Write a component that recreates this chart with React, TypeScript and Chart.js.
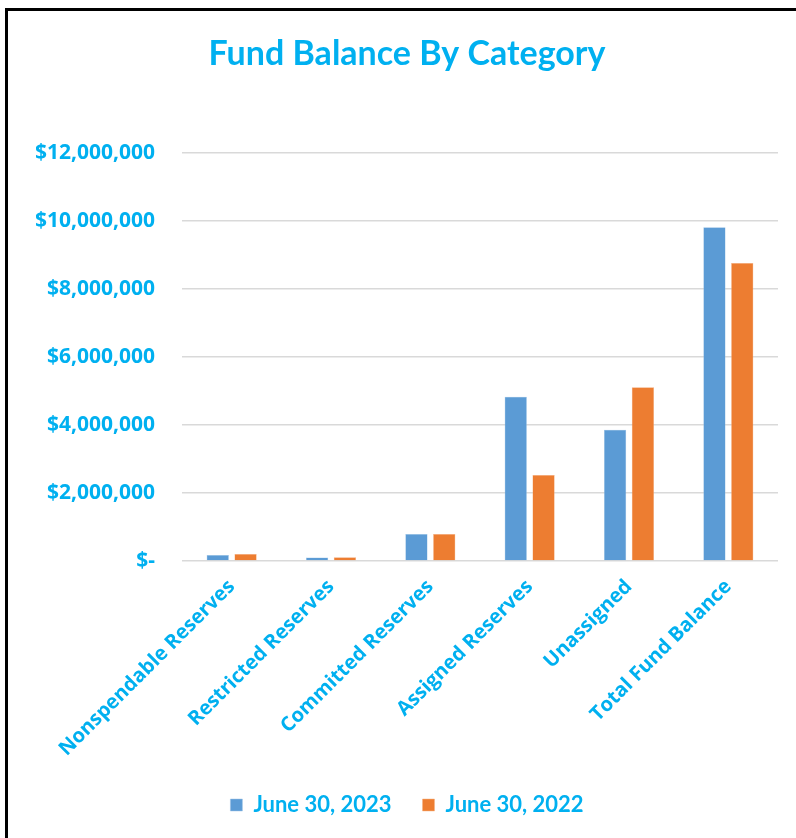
import React, { useEffect, useRef } from "react";
import { Chart, registerables } from "chart.js";

Chart.register(...registerables);

const categories = [
  "Nonspendable Reserves",
  "Restricted Reserves",
  "Committed Reserves",
  "Assigned Reserves",
  "Unassigned",
  "Total Fund Balance",
];
const seriesNames = ["June 30, 2023", "June 30, 2022"];
const values2023 = [176000, 100000, 794000, 4830000, 3860000, 9810000];
const values2022 = [205000, 110000, 794000, 2530000, 5110000, 8760000];
const yTickMax = 12000000;
const yTickStep = 2000000;

const TEXT = "#00B0F0";

export default function App() {
  const ref = useRef<HTMLCanvasElement | null>(null);
  useEffect(() => {
    let chart: Chart | null = null;
    let cancelled = false;
    const make = () => {
      if (cancelled || !ref.current) return;
      chart = new Chart(ref.current, {
        type: "bar",
        data: {
          labels: categories,
          datasets: [
            {
              label: seriesNames[0],
              data: values2023,
              backgroundColor: "#5B9BD5",
              borderColor: "#9DC3E6",
              borderWidth: 0.5,
              categoryPercentage: 0.56,
              barPercentage: 0.8,
            },
            {
              label: seriesNames[1],
              data: values2022,
              backgroundColor: "#ED7D31",
              borderColor: "#F4B183",
              borderWidth: 0.5,
              categoryPercentage: 0.56,
              barPercentage: 0.8,
            },
          ],
        },
        options: {
          animation: false,
          responsive: false,
          layout: { padding: { left: 36, right: 18, top: 0, bottom: 12 } },
          plugins: {
            tooltip: { enabled: false },
            title: {
              display: true,
              text: "Fund Balance By Category",
              color: TEXT,
              font: { family: "Lato", size: 34, weight: "bold", lineHeight: 1.2 },
              padding: { top: 34, bottom: 78 },
            },
            legend: {
              position: "bottom",
              labels: {
                color: TEXT,
                font: { family: "Lato", size: 22, weight: "bold" },
                boxWidth: 12,
                boxHeight: 12,
                padding: 31,
              },
            },
          },
          scales: {
            x: {
              grid: { display: false },
              border: { display: false },
              ticks: {
                color: TEXT,
                font: { family: "Open Sans", size: 20, weight: "bold" },
                minRotation: 45,
                maxRotation: 45,
                padding: 6,
              },
              afterFit: (s: any) => {
                s.height = 202;
              },
            },
            y: {
              min: 0,
              max: yTickMax,
              grid: { color: "#D9D9D9", lineWidth: 1.5, drawTicks: false },
              border: { display: false },
              ticks: {
                stepSize: yTickStep,
                color: TEXT,
                font: { family: "Open Sans", size: 21, weight: "bold" },
                padding: 27,
                callback: (v: any) =>
                  Number(v) === 0 ? "$-" : "$" + Number(v).toLocaleString("en-US"),
              },
              afterFit: (s: any) => {
                s.width = 146;
              },
            },
          },
        },
      });
    };
    const fonts: any = (document as any).fonts;
    if (fonts && fonts.load) {
      Promise.all([
        fonts.load('bold 20px "Open Sans"'),
        fonts.load('bold 20px "Lato"'),
      ])
        .catch(() => null)
        .then(make);
    } else {
      make();
    }
    return () => {
      cancelled = true;
      if (chart) chart.destroy();
    };
  }, []);
  return (
    <div style={{ position: "absolute", left: 0, top: 0, width: 796, height: 838, background: "#fff", overflow: "hidden" }}>
      <canvas ref={ref} width={796} height={838} style={{ position: "absolute", left: 0, top: 0 }} />
      <div
        style={{
          position: "absolute",
          left: 5,
          top: 8,
          width: 900,
          height: 900,
          borderLeft: "3px solid #000",
          borderTop: "3px solid #000",
          pointerEvents: "none",
        }}
      />
    </div>
  );
}
